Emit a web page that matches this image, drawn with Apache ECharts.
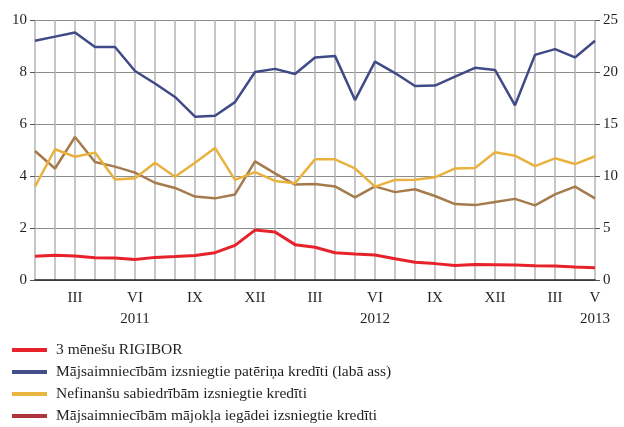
<!DOCTYPE html>
<html>
<head>
<meta charset="utf-8">
<script src="https://cdn.jsdelivr.net/npm/echarts@6/dist/echarts.min.js"></script>
<style>
  html, body { margin: 0; padding: 0; background: #fff; }
  #chart { width: 624px; height: 427px; }
</style>
</head>
<body>
<div id="chart"></div>
<script>
// 2011 I .. 2013 V
const months = [
  '2011-01', '2011-02', '2011-03', '2011-04', '2011-05', '2011-06', '2011-07', '2011-08', '2011-09', '2011-10', '2011-11', '2011-12',
  '2012-01', '2012-02', '2012-03', '2012-04', '2012-05', '2012-06', '2012-07', '2012-08', '2012-09', '2012-10', '2012-11', '2012-12',
  '2013-01', '2013-02', '2013-03', '2013-04', '2013-05'
]
const tickLabels = {
  2: 'III', 5: 'VI\n2011', 8: 'IX', 11: 'XII',
  14: 'III', 17: 'VI\n2012', 20: 'IX', 23: 'XII',
  26: 'III', 28: 'V\n2013'
}

const rigibor = [0.91, 0.95, 0.92, 0.86, 0.85, 0.79, 0.87, 0.9, 0.94, 1.05, 1.33, 1.92, 1.85, 1.36, 1.26,
  1.05, 1.0, 0.96, 0.82, 0.68, 0.63, 0.56, 0.6, 0.59, 0.58, 0.55, 0.54, 0.5, 0.47]
const paterina = [23.0, 23.4, 23.8, 22.4, 22.4, 20.1, 18.9, 17.6, 15.7, 15.8, 17.1, 20.0, 20.3, 19.8, 21.4,
  21.55, 17.3, 21.0, 19.9, 18.65, 18.7, 19.55, 20.4, 20.2, 16.8, 21.65, 22.2, 21.4, 23.0]
const nefinansu = [3.59, 5.03, 4.74, 4.9, 3.87, 3.91, 4.51, 3.97, 4.51, 5.08, 3.85, 4.15, 3.81, 3.72, 4.64,
  4.64, 4.29, 3.59, 3.85, 3.86, 3.95, 4.29, 4.31, 4.91, 4.78, 4.38, 4.68, 4.46, 4.76]
const majokla = [4.96, 4.29, 5.5, 4.54, 4.36, 4.13, 3.74, 3.54, 3.21, 3.14, 3.29, 4.56, 4.1, 3.67, 3.69,
  3.6, 3.18, 3.6, 3.38, 3.49, 3.23, 2.92, 2.88, 3.0, 3.12, 2.87, 3.29, 3.59, 3.14]

const names = [
  '3 mēnešu RIGIBOR',
  'Mājsaimniecībām izsniegtie patēriņa kredīti (labā ass)',
  'Nefinanšu sabiedrībām izsniegtie kredīti',
  'Mājsaimniecībām mājokļa iegādei izsniegtie kredīti'
]
const lineColors = ['#e8222b', '#404a86', '#e9b23e', '#a57a4c']
const legendColors = ['#e8222b', '#45508a', '#e9b440', '#b0343c']

const font = '"Liberation Serif", "DejaVu Serif", serif'
const textColor = '#231f20'

const chart = echarts.init(document.getElementById('chart'))

const line = (i, data, yAxisIndex, width) => ({
  name: names[i],
  type: 'line',
  yAxisIndex,
  data,
  symbol: 'none',
  animation: false,
  lineStyle: { color: lineColors[i], width },
  itemStyle: { color: lineColors[i] }
})

chart.setOption({
  animation: false,
  textStyle: { fontFamily: font },
  grid: { left: 35, right: 29, top: 20, bottom: 147 },
  legend: {
    orient: 'vertical',
    left: 12,
    top: 342,
    padding: 0,
    icon: 'rect',
    itemWidth: 35,
    itemHeight: 4,
    itemGap: 6,
    textStyle: { fontFamily: font, fontSize: 15.5, color: textColor, lineHeight: 16, padding: [0, 0, 0, 4] },
    data: names.map((n, i) => ({ name: n, itemStyle: { color: legendColors[i] } }))
  },
  xAxis: {
    type: 'category',
    data: months,
    boundaryGap: false,
    axisLine: { lineStyle: { color: '#231f20', width: 1.5 } },
    axisTick: { show: false },
    axisLabel: {
      interval: (idx) => tickLabels[idx] !== undefined,
      formatter: (v, idx) => tickLabels[idx] || '',
      fontFamily: font,
      fontSize: 15,
      color: textColor,
      lineHeight: 21,
      margin: 8
    },
    splitLine: { show: true, interval: 0, lineStyle: { color: '#b4b4b4', width: 1.5 } }
  },
  yAxis: [
    {
      type: 'value',
      min: 0,
      max: 10,
      interval: 2,
      axisLine: { show: false },
      axisTick: { show: true, length: 5, lineStyle: { color: '#555' } },
      axisLabel: { fontFamily: font, fontSize: 15, color: textColor, margin: 8 },
      splitLine: { lineStyle: { color: '#8c8c8c', width: 1 } }
    },
    {
      type: 'value',
      min: 0,
      max: 25,
      interval: 5,
      position: 'right',
      axisLine: { show: false },
      axisTick: { show: true, length: 5, lineStyle: { color: '#555' } },
      axisLabel: { fontFamily: font, fontSize: 15, color: textColor, margin: 8 },
      splitLine: { show: false }
    }
  ],
  series: [
    line(3, majokla, 0, 2.5),
    line(2, nefinansu, 0, 2.5),
    line(1, paterina, 1, 2.5),
    line(0, rigibor, 0, 3)
  ]
})
</script>
</body>
</html>
